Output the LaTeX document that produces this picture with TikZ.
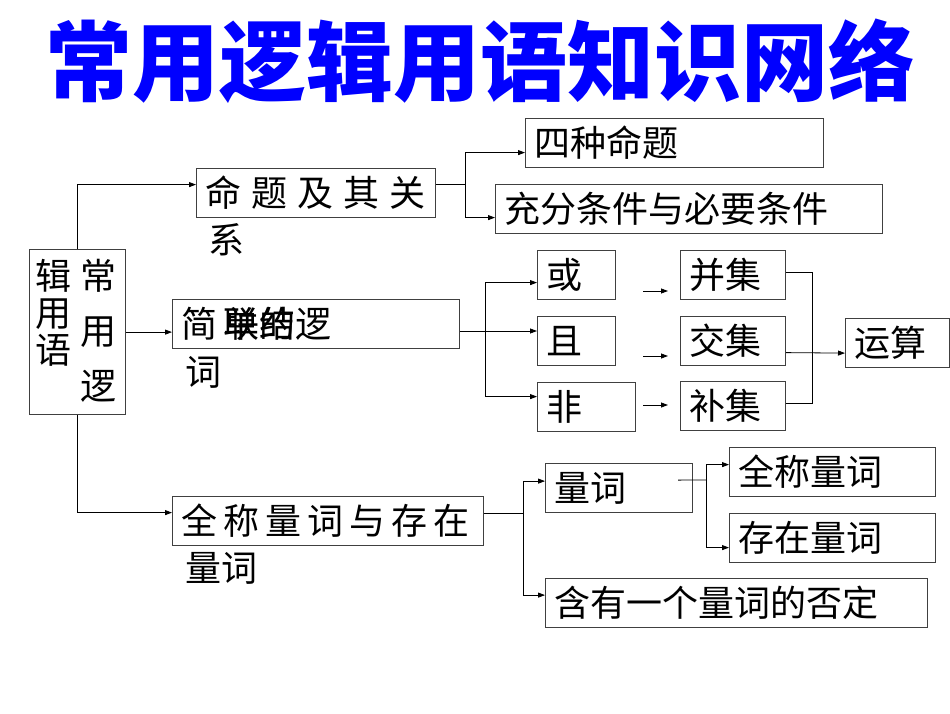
\documentclass[tikz,border=0pt]{standalone}
\usepackage{fontspec}
\setmainfont{Noto Sans CJK SC}
\usepackage{xcolor}
\usepackage{tikz}
\usetikzlibrary{arrows.meta,positioning,calc}
\definecolor{TitleBlue}{HTML}{0000FF}
\definecolor{BoxGray}{HTML}{404040}
\newcommand{\BoxFont}{\fontsize{36}{40}\selectfont}
\newcommand{\TitleFont}{\fontsize{87}{90}\selectfont\bfseries}
\newcommand{\Gap}[1][10pt]{\hspace{#1}}

\begin{document}
\begin{tikzpicture}[
    x=1pt, y=-1pt,
    box/.style={draw=BoxGray, line width=1.2pt, anchor=north west, inner xsep=9pt,
      inner ysep=0pt, minimum height=49pt, align=left, font=\BoxFont},
    word/.style={anchor=north west, inner sep=0pt, align=left, font=\BoxFont},
    arr/.style={-{Triangle[length=7pt,width=5pt]}, line width=0.8pt},
    link/.style={line width=0.8pt}
  ]
    \useasboundingbox (0,0) rectangle (950,713);
    \node[font=\TitleFont, text=TitleBlue, inner sep=0pt] (title) at (480,61) {常用逻辑用语知识网络};

    % root
    \node[draw=BoxGray, line width=1.2pt, anchor=north west, minimum width=96pt,
      minimum height=165pt, inner sep=0pt] (root) at (29,249) {};
    \node[word, font=\fontsize{36}{37}\selectfont] (rootl) at (35,259) {辑\\用\\语};
    \node[word, font=\fontsize{36}{55}\selectfont] (rootr) at (80,259) {常\\用\\逻};

    % first branch
    \node[box, text width=221pt] (mingti) at (196,168) {命\Gap 题\Gap 及\Gap 其\Gap 关};
    \node[word] (mingti2) at (208,223) {系};
    \node[box, text width=280pt] (sizhong) at (525,118) {四种命题};
    \node[box, text width=369pt] (chongfen) at (495,184) {充分条件与必要条件};

    % second branch
    \node[box, text width=269pt] (lianjie) at (172,299) {简\Gap[6pt]\rlap{单的}联结逻};
    \node[word] (lianjie2) at (185,356) {词};
    \node[box, text width=60pt] (huo) at (537,250) {或};
    \node[box, text width=60pt] (qie) at (537,316) {且};
    \node[box, text width=80pt] (fei) at (537,382) {非};
    \node[box, text width=87pt] (bingji) at (680,250) {并集};
    \node[box, text width=87pt] (jiaoji) at (680,316) {交集};
    \node[box, text width=87pt] (buji) at (680,381) {补集};
    \node[box, text width=86pt] (yunsuan) at (845,318) {运算};

    % third branch
    \node[box, text width=293pt] (quan) at (172,496) {全\Gap[6pt]称\Gap[6pt]量\Gap[6pt]词\Gap[6pt]与\Gap[6pt]存\Gap[6pt]在};
    \node[word] (quan2) at (185,552) {量词};
    \node[box, text width=129pt] (liangci) at (545,463) {量词};
    \node[box, text width=188pt] (quancheng) at (729,447) {全称量词};
    \node[box, text width=188pt] (cunzai) at (729,513) {存在量词};
    \node[box, text width=364pt] (hanyou) at (545,578) {含有一个量词的否定};

    \coordinate (j1) at (465,184);
    \coordinate (j2) at (485,331);
    \coordinate (j3) at (812,272);
    \coordinate (j4) at (523,513);
    \coordinate (j5) at (706,480);
    \coordinate (s1) at (643,291);
    \coordinate (e1) at (668,291);
    \coordinate (s2) at (643,356);
    \coordinate (e2) at (668,356);
    \coordinate (s3) at (643,405);
    \coordinate (e3) at (668,405);

    \draw[arr] (root.north) |- ([yshift=8.5pt]mingti.west);
    \draw[link] (j1 -| mingti.east) -- (j1);
    \draw[arr] (j1) |- ([yshift=-9.5pt]sizhong.west);
    \draw[arr] (j1) |- ([yshift=-8.5pt]chongfen.west);

    \draw[arr] (root.east) -- (root.east -| lianjie.west);
    \draw[link] (j2 -| lianjie.east) -- (j2);
    \draw[arr] (j2) -- (j2 -| qie.west);
    \draw[arr] (j2) |- ([yshift=-7.5pt]huo.west);
    \draw[arr] (j2) |- ([yshift=10.5pt]fei.west);
    \draw[arr] (s1) -- (e1);
    \draw[arr] (s2) -- (e2);
    \draw[arr] (s3) -- (e3);
    \draw[link] (j3 -| bingji.east) -- (j3) |- ([yshift=2.5pt]buji.east);
    \draw[arr] ([yshift=-11.5pt]jiaoji.east) -- ([yshift=-10pt]yunsuan.west);

    \draw[arr] (root.south) |- ([yshift=8.5pt]quan.west);
    \draw[link] (j4 -| quan.east) -- (j4);
    \draw[arr] (j4) |- ([yshift=7pt]liangci.west);
    \draw[arr] (j4) |- ([yshift=8pt]hanyou.west);
    \draw[link] ([xshift=-15pt,yshift=8pt]liangci.east) -- (j5);
    \draw[arr] (j5) |- ([yshift=7.5pt]quancheng.west);
    \draw[arr] (j5) |- ([yshift=-9.5pt]cunzai.west);
\end{tikzpicture}
\end{document}
